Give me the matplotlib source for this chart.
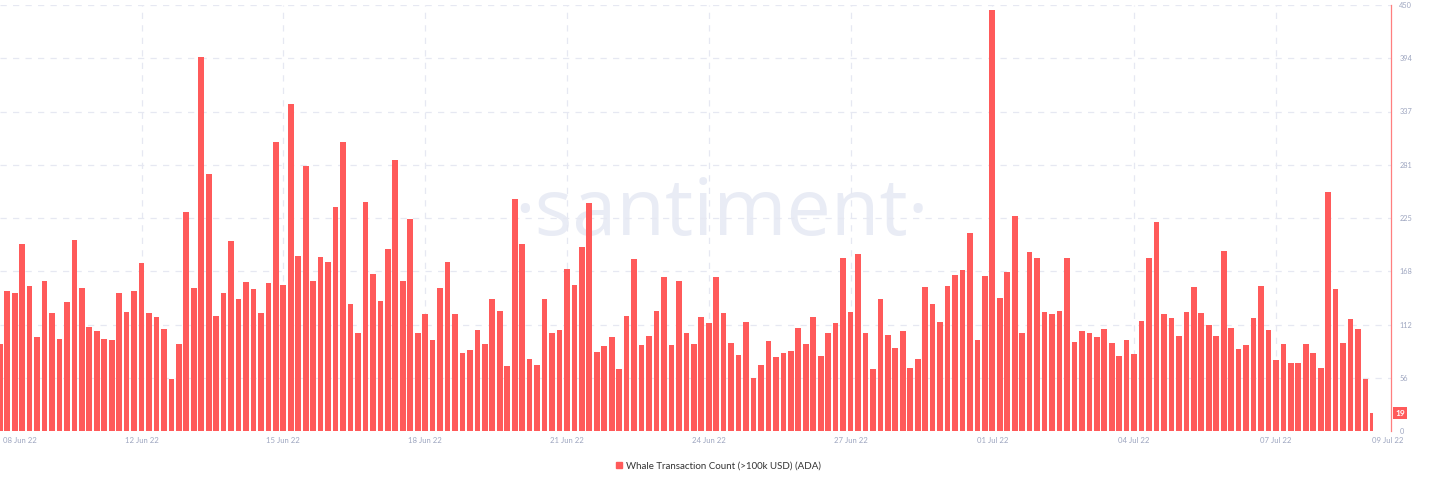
import matplotlib
matplotlib.use("Agg")
import matplotlib.pyplot as plt
import numpy as np

plt.rcParams['font.family'] = ['Lato', 'DejaVu Sans']

# Whale transaction count (>100k USD), ADA, 4-hour buckets, 08 Jun 22 -> 09 Jul 22
whale_counts = [
    92, 148, 146, 198, 153, 99, 158, 125, 97, 136, 202, 151, 110, 106, 97, 96, 146, 126, 148, 177, 125, 120, 108, 55,
    92, 231, 151, 395, 272, 122, 146, 201, 139, 157, 150, 125, 156, 305, 154, 345, 185, 280, 158, 184, 178, 237, 305, 134,
    103, 242, 166, 137, 192, 286, 158, 224, 103, 124, 96, 151, 179, 124, 82, 86, 107, 92, 139, 127, 69, 245, 198,
    76, 70, 139, 104, 107, 171, 154, 194, 241, 83, 90, 99, 65, 122, 182, 91, 100, 127, 163, 91, 158, 103, 92, 120,
    114, 163, 125, 93, 80, 115, 56, 70, 95, 78, 82, 85, 109, 92, 120, 79, 103, 114, 183, 126, 187, 104, 65,
    139, 101, 88, 106, 67, 76, 152, 134, 115, 153, 165, 170, 209, 96, 164, 445, 140, 168, 227, 103, 189, 183, 126, 124,
    127, 183, 94, 106, 104, 99, 108, 93, 79, 96, 81, 116, 183, 221, 124, 119, 100, 126, 152, 125, 112, 100, 190,
    109, 87, 91, 119, 153, 107, 75, 92, 72, 72, 92, 82, 67, 252, 150, 93, 118, 108, 55, 19,
]

# date labels (bar index of the gridline, text)
grid_ticks = [19, 38, 57, 76, 95, 114, 133, 152, 171]
grid_labels = ["12 Jun 22", "15 Jun 22", "18 Jun 22", "21 Jun 22", "24 Jun 22",
               "27 Jun 22", "01 Jul 22", "04 Jul 22", "07 Jul 22"]
start_label = "08 Jun 22"
end_label = "09 Jul 22"

y_ticks = [0, 56.25, 112.5, 168.75, 225, 281.25, 337.5, 393.75, 450]
y_labels = ["0", "56", "112", "168", "225", "281", "337", "394", "450"]

legend_label = "Whale Transaction Count (>100k USD) (ADA)"

bar_color = '#ff5a5a'
grid_color = '#e6e8f2'
label_color = '#9ea6c0'

fig = plt.figure(figsize=(14.29, 4.84), dpi=100)
ax = fig.add_axes([0.0, 1 - 431 / 484, 1391 / 1429, 426 / 484])

n = len(whale_counts)
idx = np.arange(n)
widths = np.full(n, 0.76)
widths[-1] = 0.36  # last bucket is still open
ax.bar(idx - 0.38, whale_counts, width=widths, align='edge', color=bar_color,
       linewidth=0, zorder=3)

ax.set_xlim(0.035, 186.42)
ax.set_ylim(0, 450)

# grid
for yt in y_ticks[1:]:
    ax.axhline(yt, color=grid_color, lw=0.9, ls=(0, (5, 5)), zorder=1)
for xt in grid_ticks:
    ax.axvline(xt, color=grid_color, lw=0.9, ls=(0, (5, 5)), zorder=1)

# x labels
ax.set_xticks([2.7] + grid_ticks + [186.0])
ax.set_xticklabels([start_label] + grid_labels + [end_label])
ax.tick_params(axis='x', length=0, pad=4, labelsize=5.6, labelcolor=label_color)

# y axis on the right
ax.yaxis.tick_right()
ax.set_yticks(y_ticks)
ax.set_yticklabels(y_labels)
ax.tick_params(axis='y', length=0, pad=6, labelsize=5.3, labelcolor=label_color)

for side in ['top', 'left', 'bottom']:
    ax.spines[side].set_visible(False)
ax.spines['right'].set_color('#ff7f7f')
ax.spines['right'].set_linewidth(0.9)

# last value marker on the axis
ax.text(1.003, whale_counts[-1], str(whale_counts[-1]), transform=ax.get_yaxis_transform(),
        ha='left', va='center', fontsize=6, color='white', fontweight='bold',
        bbox=dict(boxstyle='square,pad=0.3', fc=bar_color, ec='none'), clip_on=False)

# watermark
ax.text(0.5185, 1 - 230 / 426, "\u00b7santiment\u00b7", transform=ax.transAxes,
        ha='center', va='baseline', fontsize=57, color='#e9ecf5',
        family=['Open Sans', 'DejaVu Sans'], zorder=0)

# legend
handle = plt.Line2D([], [], marker='s', ls='none', color=bar_color, markersize=5)
fig.legend([handle], [legend_label], loc='center', bbox_to_anchor=(0.502, 1 - 466 / 484),
           frameon=False, fontsize=7, handletextpad=0.2, labelcolor='#333333',
           handlelength=1.0)

fig.savefig('out.png', dpi=100)
